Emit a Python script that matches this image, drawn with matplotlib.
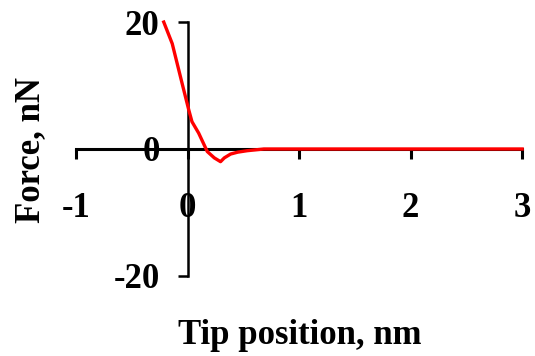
import matplotlib
matplotlib.use("Agg")
import matplotlib.pyplot as plt

# Data
tip_pos = [-0.213, -0.137, -0.048, 0.012, 0.04, 0.10, 0.177, 0.24, 0.296, 0.33, 0.386, 0.45, 0.535, 0.685, 1.0, 2.0, 3.0]
force   = [20.0, 16.6, 10.3, 6.1, 4.3, 2.5, -0.4, -1.4, -2.0, -1.4, -0.8, -0.5, -0.27, 0.0, 0.0, 0.0, 0.0]
x_ticks = [-1, 0, 1, 2, 3]
y_ticks = [-20, 0, 20]

plt.rcParams['font.family'] = ['Liberation Serif', 'DejaVu Serif']
plt.rcParams['font.weight'] = 'bold'

fig = plt.figure(figsize=(5.35, 3.56), dpi=100)
ax = fig.add_axes([0.142, 0.225, 0.834, 0.713])
ax.plot(tip_pos, force, color='#ff0000', lw=2.4, clip_on=False, zorder=3)

ax.set_xlim(-1, 3)
ax.set_ylim(-20, 20)
for s in ['top', 'right']:
    ax.spines[s].set_visible(False)
ax.spines['left'].set_position(('data', 0))
ax.spines['bottom'].set_position(('data', 0))
ax.spines['left'].set_linewidth(1.8)
ax.spines['bottom'].set_linewidth(2.2)
ax.set_xticks(x_ticks)
ax.set_yticks(y_ticks)
ax.set_xticklabels([str(v) for v in x_ticks])
ax.set_yticklabels([str(v) for v in y_ticks])
ax.tick_params(axis='x', direction='out', length=7, width=2.2, pad=24, labelsize=25)
ax.tick_params(axis='y', direction='out', length=7, width=1.8, pad=13, labelsize=25)
for lab in ax.get_xticklabels() + ax.get_yticklabels():
    lab.set_fontweight('bold')

fig.text(0.561, 0.058, 'Tip position, nm', ha='center', va='center', fontsize=25, fontweight='bold')
fig.text(0.058, 0.58, 'Force, nN', ha='center', va='center', rotation=90, fontsize=25, fontweight='bold')

fig.savefig('out.png', dpi=100)
